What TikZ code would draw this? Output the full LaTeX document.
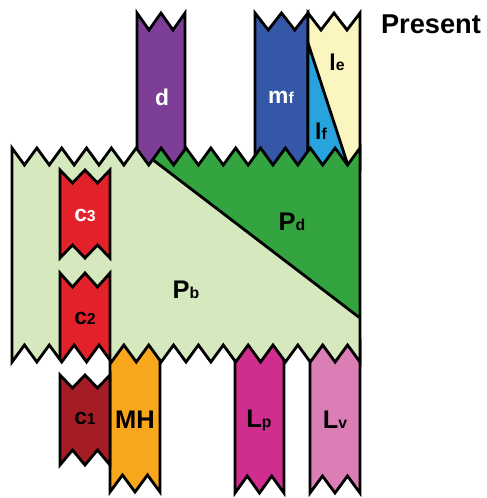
\documentclass[tikz,border=0pt]{standalone}
\usepackage{fontspec}
\setmainfont{Liberation Sans}
\usepackage{tikz}
\usetikzlibrary{positioning}
\definecolor{pbgreen}{HTML}{D5E8BE}
\definecolor{pdgreen}{HTML}{33A43F}
\definecolor{dpurple}{HTML}{7D3E98}
\definecolor{mfblue}{HTML}{3557A7}
\definecolor{lfblue}{HTML}{27A4DE}
\definecolor{leyellow}{HTML}{FBF5C0}
\definecolor{cred}{HTML}{E3212B}
\definecolor{cdark}{HTML}{A51D24}
\definecolor{mhorange}{HTML}{F8A61C}
\definecolor{lpmag}{HTML}{D02E8E}
\definecolor{lvpink}{HTML}{DC7EB6}
\newcommand{\lo}[1]{{\fontsize{9}{10}\selectfont #1}}

\begin{document}
\begin{tikzpicture}[x=0.02cm, y=-0.02cm,
      edge/.style={draw=black, line width=1.6pt, line join=miter},
      lbl/.style={font=\bfseries\fontsize{13}{15}\selectfont, inner sep=0pt},
      biglbl/.style={font=\bfseries\fontsize{14.5}{17}\selectfont, inner sep=0pt}]
    \useasboundingbox (0,0) rectangle (487,498);

    % columns above the band
    \filldraw[edge, fill=dpurple] (137,13) \foreach \k in {1,2} {-- ++(12,17) -- ++(12,-17)} -- (185,170) -- (137,170) -- cycle;
    \filldraw[edge, fill=mfblue] (255,13) \foreach \k in {1,2} {-- ++(13.25,17) -- ++(13.25,-17)} -- (308,170) -- (255,170) -- cycle;
    \filldraw[edge, fill=leyellow] (308,13) \foreach \k in {1,2} {-- ++(13,17) -- ++(13,-17)} -- (360,170) -- (308,170) -- cycle;
    \filldraw[edge, fill=lfblue] (308,43) -- (349.5,170) -- (308,170) -- cycle;

    % columns below the band
    \filldraw[edge, fill=mhorange] (110,340) -- (110,492) \foreach \k in {1,2} {-- ++(12.5,-17) -- ++(12.5,17)} -- (160,340) -- cycle;
    \filldraw[edge, fill=lpmag] (235,340) -- (235,493) \foreach \k in {1,2} {-- ++(12.25,-17) -- ++(12.25,17)} -- (284,340) -- cycle;
    \filldraw[edge, fill=lvpink] (310,340) -- (310,493) \foreach \k in {1,2} {-- ++(12.5,-17) -- ++(12.5,17)} -- (360,340) -- cycle;
    \filldraw[edge, fill=cdark] (60,375) \foreach \k in {1,2} {-- ++(12.5,13) -- ++(12.5,-13)} -- (110,465) \foreach \k in {1,2} {-- ++(-12.5,-15) -- ++(-12.5,15)} -- cycle;

    % the band
    \path[save path=\bandpath] (12,148) \foreach \k in {1,...,14} {-- ++(12.428,17) -- ++(12.428,-17)} -- (360,362) \foreach \k in {1,...,14} {-- ++(-12.428,-17) -- ++(-12.428,17)} -- cycle;
    \fill[pbgreen, use path=\bandpath];
    \begin{scope}
      \clip[use path=\bandpath];
      \fill[pdgreen] (360,318) -- (127,140) -- (380,140) -- (380,318) -- cycle;
      \draw[edge] (360,318) -- (127,140);
      \filldraw[edge, fill=cred] (60,380) -- (60,273) \foreach \k in {1,2} {-- ++(12.5,14) -- ++(12.5,-14)} -- (110,380);
    \end{scope}
    \filldraw[edge, fill=cred] (60,170) \foreach \k in {1,2} {-- ++(12.5,13) -- ++(12.5,-13)} -- (110,258) \foreach \k in {1,2} {-- ++(-12.5,-13) -- ++(-12.5,13)} -- cycle;
    \draw[edge, use path=\bandpath];

    % labels
    \node[lbl, white] (d) at (162,97) {d};
    \node[lbl, white] (mf) at (281,97) {m\lo{f}};
    \node[lbl] (le) at (337,62) {l\lo{e}};
    \node[lbl] (lf) at (321,131) {l\lo{f}};
    \node[lbl, white] (c3) at (85,215) {c\lo{3}};
    \node[lbl] (c2) at (85,318) {c\lo{2}};
    \node[lbl] (c1) at (85,418) {c\lo{1}};
    \node[biglbl] (pb) at (186,290) {P\lo{b}};
    \node[biglbl] (pd) at (292,222) {P\lo{d}};
    \node[biglbl] (mh) at (135,420) {MH};
    \node[biglbl] (lp) at (259,420) {L\lo{p}};
    \node[biglbl] (lv) at (335,420) {L\lo{v}};
    \node[font=\bfseries\fontsize{15.5}{18}\selectfont, inner sep=0pt] (present) at (431,24) {Present};
  \end{tikzpicture}
\end{document}
